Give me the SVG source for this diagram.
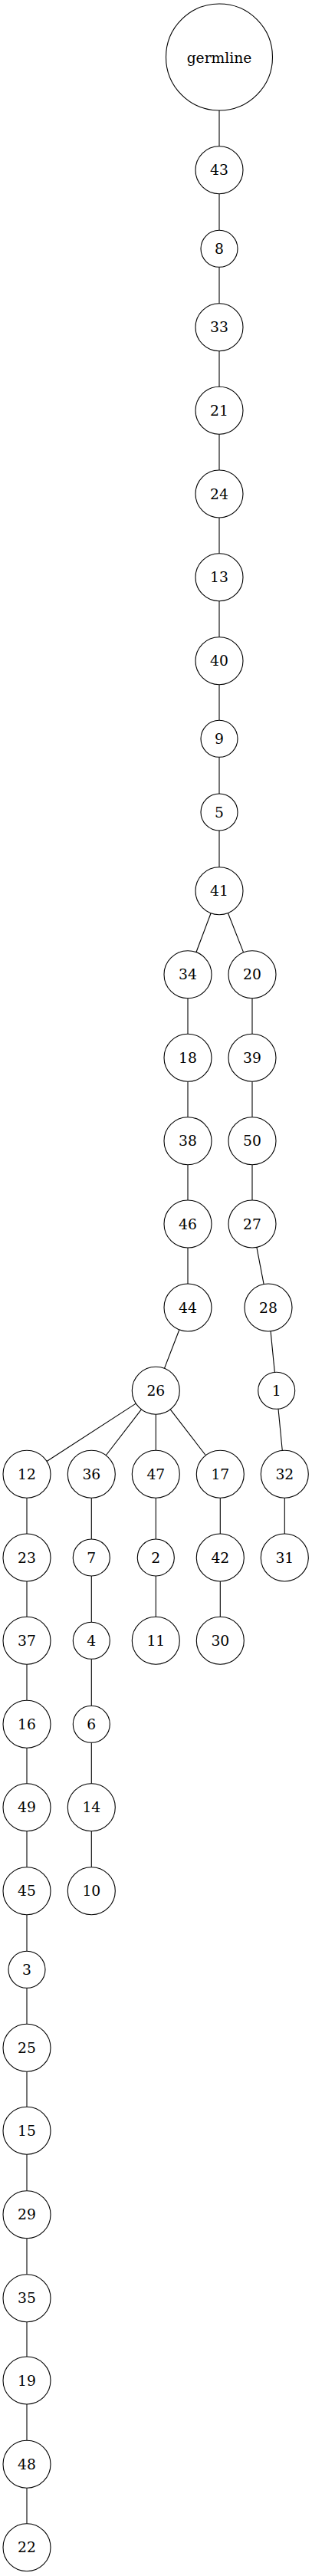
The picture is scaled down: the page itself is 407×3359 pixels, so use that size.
<svg xmlns="http://www.w3.org/2000/svg" width="407" height="3359" viewBox="0 0 407 3359">
<style>
.n circle{fill:#fff;stroke:#000;stroke-width:1.1}
.n text{font-family:"DejaVu Serif",serif;font-size:18.7px;text-anchor:middle;fill:#000}
#edges line{stroke:#000;stroke-width:1.1}
</style>
<rect width="407" height="3359" fill="#fff"/>
<g id="edges">
<line x1="286" y1="144" x2="286" y2="190.7"/>
<line x1="286" y1="252.7" x2="286" y2="300.3"/>
<line x1="286" y1="348.3" x2="286" y2="395.7"/>
<line x1="286" y1="457.7" x2="286" y2="504.3"/>
<line x1="286" y1="566.3" x2="286" y2="613"/>
<line x1="286" y1="675" x2="286" y2="721.7"/>
<line x1="286" y1="783.7" x2="286" y2="830.7"/>
<line x1="286" y1="892.7" x2="286" y2="939.3"/>
<line x1="286" y1="987.3" x2="286" y2="1035"/>
<line x1="286" y1="1083" x2="286" y2="1130.7"/>
<line x1="275.09" y1="1190.71" x2="255.91" y2="1241.69"/>
<line x1="297.38" y1="1190.54" x2="317.62" y2="1241.86"/>
<line x1="245" y1="1301.7" x2="245" y2="1348.3"/>
<line x1="245" y1="1410.3" x2="245" y2="1456.7"/>
<line x1="245" y1="1518.7" x2="245" y2="1565"/>
<line x1="245" y1="1627" x2="245" y2="1674"/>
<line x1="233.86" y1="1733.93" x2="214.44" y2="1784.37"/>
<line x1="177.28" y1="1830.15" x2="61.02" y2="1905.45"/>
<line x1="184.38" y1="1837.86" x2="138.22" y2="1897.74"/>
<line x1="203.3" y1="1844.3" x2="203.3" y2="1891.3"/>
<line x1="222.22" y1="1837.86" x2="268.38" y2="1897.74"/>
<line x1="35" y1="1953.3" x2="35" y2="2000"/>
<line x1="35" y1="2062" x2="35" y2="2108.3"/>
<line x1="35" y1="2170.3" x2="35" y2="2217.3"/>
<line x1="35" y1="2279.3" x2="35" y2="2325.7"/>
<line x1="35" y1="2387.7" x2="35" y2="2434.7"/>
<line x1="35" y1="2496.7" x2="35" y2="2544.3"/>
<line x1="35" y1="2592.3" x2="35" y2="2639.3"/>
<line x1="35" y1="2701.3" x2="35" y2="2747.3"/>
<line x1="35" y1="2809.3" x2="35" y2="2856.7"/>
<line x1="35" y1="2918.7" x2="35" y2="2965.7"/>
<line x1="35" y1="3027.7" x2="35" y2="3073"/>
<line x1="35" y1="3135" x2="35" y2="3182.3"/>
<line x1="35" y1="3244.3" x2="35" y2="3290.7"/>
<line x1="119.3" y1="1953.3" x2="119.3" y2="2007"/>
<line x1="119.3" y1="2055" x2="119.3" y2="2115.3"/>
<line x1="119.3" y1="2163.3" x2="119.3" y2="2224.3"/>
<line x1="119.3" y1="2272.3" x2="119.3" y2="2325.7"/>
<line x1="119.3" y1="2387.7" x2="119.3" y2="2434.7"/>
<line x1="203.3" y1="1953.3" x2="203.3" y2="2007"/>
<line x1="203.3" y1="2055" x2="203.3" y2="2108.3"/>
<line x1="287.3" y1="1953.3" x2="287.3" y2="2000"/>
<line x1="287.3" y1="2062" x2="287.3" y2="2108.3"/>
<line x1="329" y1="1301.7" x2="329" y2="1348.3"/>
<line x1="329" y1="1410.3" x2="329" y2="1456.7"/>
<line x1="329" y1="1518.7" x2="329" y2="1565"/>
<line x1="334.86" y1="1626.44" x2="344.14" y2="1674.56"/>
<line x1="353.05" y1="1735.85" x2="358.34" y2="1789.42"/>
<line x1="363.02" y1="1837.19" x2="368.3" y2="1891.45"/>
<line x1="371.3" y1="1953.3" x2="371.3" y2="2000"/>
</g>
<g id="n-germline" class="n"><circle cx="286" cy="74.5" r="69.5"/><text x="286" y="81.5">germline</text></g>
<g id="n43" class="n"><circle cx="286" cy="221.7" r="31"/><text x="286" y="228.2">43</text></g>
<g id="n8" class="n"><circle cx="286" cy="324.3" r="24"/><text x="286" y="330.8">8</text></g>
<g id="n33" class="n"><circle cx="286" cy="426.7" r="31"/><text x="286" y="433.2">33</text></g>
<g id="n21" class="n"><circle cx="286" cy="535.3" r="31"/><text x="286" y="541.8">21</text></g>
<g id="n24" class="n"><circle cx="286" cy="644" r="31"/><text x="286" y="650.5">24</text></g>
<g id="n13" class="n"><circle cx="286" cy="752.7" r="31"/><text x="286" y="759.2">13</text></g>
<g id="n40" class="n"><circle cx="286" cy="861.7" r="31"/><text x="286" y="868.2">40</text></g>
<g id="n9" class="n"><circle cx="286" cy="963.3" r="24"/><text x="286" y="969.8">9</text></g>
<g id="n5" class="n"><circle cx="286" cy="1059" r="24"/><text x="286" y="1065.5">5</text></g>
<g id="n41" class="n"><circle cx="286" cy="1161.7" r="31"/><text x="286" y="1168.2">41</text></g>
<g id="n34" class="n"><circle cx="245" cy="1270.7" r="31"/><text x="245" y="1277.2">34</text></g>
<g id="n20" class="n"><circle cx="329" cy="1270.7" r="31"/><text x="329" y="1277.2">20</text></g>
<g id="n18" class="n"><circle cx="245" cy="1379.3" r="31"/><text x="245" y="1385.8">18</text></g>
<g id="n39" class="n"><circle cx="329" cy="1379.3" r="31"/><text x="329" y="1385.8">39</text></g>
<g id="n38" class="n"><circle cx="245" cy="1487.7" r="31"/><text x="245" y="1494.2">38</text></g>
<g id="n50" class="n"><circle cx="329" cy="1487.7" r="31"/><text x="329" y="1494.2">50</text></g>
<g id="n46" class="n"><circle cx="245" cy="1596" r="31"/><text x="245" y="1602.5">46</text></g>
<g id="n27" class="n"><circle cx="329" cy="1596" r="31"/><text x="329" y="1602.5">27</text></g>
<g id="n44" class="n"><circle cx="245" cy="1705" r="31"/><text x="245" y="1711.5">44</text></g>
<g id="n28" class="n"><circle cx="350" cy="1705" r="31"/><text x="350" y="1711.5">28</text></g>
<g id="n26" class="n"><circle cx="203.3" cy="1813.3" r="31"/><text x="203.3" y="1819.8">26</text></g>
<g id="n1" class="n"><circle cx="360.7" cy="1813.3" r="24"/><text x="360.7" y="1819.8">1</text></g>
<g id="n12" class="n"><circle cx="35" cy="1922.3" r="31"/><text x="35" y="1928.8">12</text></g>
<g id="n36" class="n"><circle cx="119.3" cy="1922.3" r="31"/><text x="119.3" y="1928.8">36</text></g>
<g id="n47" class="n"><circle cx="203.3" cy="1922.3" r="31"/><text x="203.3" y="1928.8">47</text></g>
<g id="n17" class="n"><circle cx="287.3" cy="1922.3" r="31"/><text x="287.3" y="1928.8">17</text></g>
<g id="n32" class="n"><circle cx="371.3" cy="1922.3" r="31"/><text x="371.3" y="1928.8">32</text></g>
<g id="n23" class="n"><circle cx="35" cy="2031" r="31"/><text x="35" y="2037.5">23</text></g>
<g id="n7" class="n"><circle cx="119.3" cy="2031" r="24"/><text x="119.3" y="2037.5">7</text></g>
<g id="n2" class="n"><circle cx="203.3" cy="2031" r="24"/><text x="203.3" y="2037.5">2</text></g>
<g id="n42" class="n"><circle cx="287.3" cy="2031" r="31"/><text x="287.3" y="2037.5">42</text></g>
<g id="n31" class="n"><circle cx="371.3" cy="2031" r="31"/><text x="371.3" y="2037.5">31</text></g>
<g id="n37" class="n"><circle cx="35" cy="2139.3" r="31"/><text x="35" y="2145.8">37</text></g>
<g id="n4" class="n"><circle cx="119.3" cy="2139.3" r="24"/><text x="119.3" y="2145.8">4</text></g>
<g id="n11" class="n"><circle cx="203.3" cy="2139.3" r="31"/><text x="203.3" y="2145.8">11</text></g>
<g id="n30" class="n"><circle cx="287.3" cy="2139.3" r="31"/><text x="287.3" y="2145.8">30</text></g>
<g id="n16" class="n"><circle cx="35" cy="2248.3" r="31"/><text x="35" y="2254.8">16</text></g>
<g id="n6" class="n"><circle cx="119.3" cy="2248.3" r="24"/><text x="119.3" y="2254.8">6</text></g>
<g id="n49" class="n"><circle cx="35" cy="2356.7" r="31"/><text x="35" y="2363.2">49</text></g>
<g id="n14" class="n"><circle cx="119.3" cy="2356.7" r="31"/><text x="119.3" y="2363.2">14</text></g>
<g id="n45" class="n"><circle cx="35" cy="2465.7" r="31"/><text x="35" y="2472.2">45</text></g>
<g id="n10" class="n"><circle cx="119.3" cy="2465.7" r="31"/><text x="119.3" y="2472.2">10</text></g>
<g id="n3" class="n"><circle cx="35" cy="2568.3" r="24"/><text x="35" y="2574.8">3</text></g>
<g id="n25" class="n"><circle cx="35" cy="2670.3" r="31"/><text x="35" y="2676.8">25</text></g>
<g id="n15" class="n"><circle cx="35" cy="2778.3" r="31"/><text x="35" y="2784.8">15</text></g>
<g id="n29" class="n"><circle cx="35" cy="2887.7" r="31"/><text x="35" y="2894.2">29</text></g>
<g id="n35" class="n"><circle cx="35" cy="2996.7" r="31"/><text x="35" y="3003.2">35</text></g>
<g id="n19" class="n"><circle cx="35" cy="3104" r="31"/><text x="35" y="3110.5">19</text></g>
<g id="n48" class="n"><circle cx="35" cy="3213.3" r="31"/><text x="35" y="3219.8">48</text></g>
<g id="n22" class="n"><circle cx="35" cy="3321.7" r="31"/><text x="35" y="3328.2">22</text></g>
</svg>
